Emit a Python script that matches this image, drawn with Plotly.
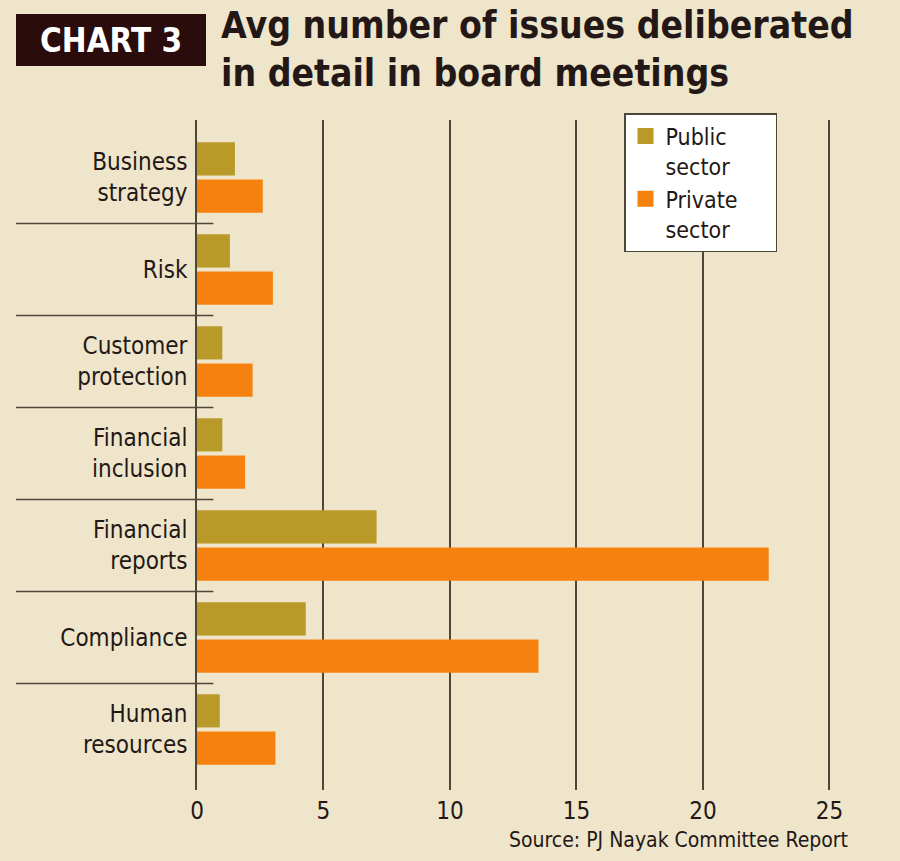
import plotly.graph_objects as go

categories = ["Business<br>strategy", "Risk", "Customer<br>protection", "Financial<br>inclusion",
              "Financial<br>reports", "Compliance", "Human<br>resources"]
public_sector = [1.5, 1.3, 1.0, 1.0, 7.1, 4.3, 0.9]
private_sector = [2.6, 3.0, 2.2, 1.9, 22.6, 13.5, 3.1]
x_ticks = [0, 5, 10, 15, 20, 25]

BG = "#eee5cb"
OLIVE = "#b99a28"
ORANGE = "#f5820f"
TXT = "#231815"
LINE = "#4f463a"
FONT = "DejaVu Sans Condensed, DejaVu Sans, sans-serif"

ypos = list(range(len(categories)))

fig = go.Figure()
fig.add_trace(go.Bar(y=ypos, x=public_sector, orientation="h", name="Public sector",
                     marker=dict(color=OLIVE, line=dict(width=0)), showlegend=False))
fig.add_trace(go.Bar(y=ypos, x=private_sector, orientation="h", name="Private sector",
                     marker=dict(color=ORANGE, line=dict(width=0)), showlegend=False))
# legend entries
fig.add_trace(go.Scatter(x=[None], y=[None], mode="markers",
                         name="Public<br>sector",
                         marker=dict(symbol="square", size=20, color=OLIVE)))
fig.add_trace(go.Scatter(x=[None], y=[None], mode="markers",
                         name="Private\u00a0\u00a0\u00a0\u00a0\u00a0<br>sector",
                         marker=dict(symbol="square", size=20, color=ORANGE)))

shapes = []
# separators between categories
for i in range(len(categories) - 1):
    shapes.append(dict(type="line", xref="paper", yref="y", x0=-0.265, x1=0.024,
                       y0=i + 0.5, y1=i + 0.5, line=dict(color=LINE, width=1.5)))
# CHART 3 box
shapes.append(dict(type="rect", xref="paper", yref="paper",
                   x0=(16 - 197) / 683, x1=(206 - 197) / 683,
                   y0=(790 - 66) / 670, y1=(790 - 14) / 670,
                   fillcolor="#2a0c0c", line=dict(width=0)))

annotations = [
    dict(text="<b>CHART 3</b>", xref="paper", yref="paper",
         x=(111 - 197) / 683, y=(790 - 41) / 670, xanchor="center", yanchor="middle",
         showarrow=False, font=dict(family=FONT, size=33, color="white")),
    dict(text="<b>Avg number of issues deliberated<br>in detail in board meetings</b>",
         xref="paper", yref="paper", x=(219 - 197) / 683, y=(790 - 2) / 670,
         xanchor="left", yanchor="top", align="left", showarrow=False,
         font=dict(family=FONT, size=37, color=TXT)),
    dict(text="Source: PJ Nayak Committee Report", xref="paper", yref="paper",
         x=(850 - 197) / 683, y=(790 - 840) / 670, xanchor="right", yanchor="middle",
         showarrow=False, font=dict(family=FONT, size=21, color=TXT)),
]

fig.update_layout(
    width=900, height=861,
    margin=dict(l=197, r=20, t=120, b=71),
    paper_bgcolor=BG, plot_bgcolor=BG,
    barmode="group", bargap=0.19, bargroupgap=0.11,
    font=dict(family=FONT, color=TXT),
    shapes=shapes, annotations=annotations,
    legend=dict(x=(624 - 197) / 683, y=(790 - 113) / 670, xanchor="left", yanchor="top",
                bgcolor="white", bordercolor=LINE, borderwidth=1.5,
                font=dict(family=FONT, size=23, color=TXT), valign="top",
                tracegroupgap=0, itemwidth=30),
    xaxis=dict(range=[0, 27], tickvals=x_ticks, ticktext=[str(v) for v in x_ticks],
               showgrid=True, gridcolor=LINE, gridwidth=1.5, zeroline=False,
               showline=False, ticks="", tickfont=dict(family=FONT, size=24, color=TXT),
               ticklabelstandoff=4),
    yaxis=dict(range=[6.658, -0.625], tickvals=ypos, ticktext=categories,
               showgrid=False, zeroline=False, showline=True, linecolor=LINE,
               linewidth=1.5, ticks="",
               tickfont=dict(family=FONT, size=24, color=TXT), ticklabelstandoff=3),
)

fig.write_html("out.html")
